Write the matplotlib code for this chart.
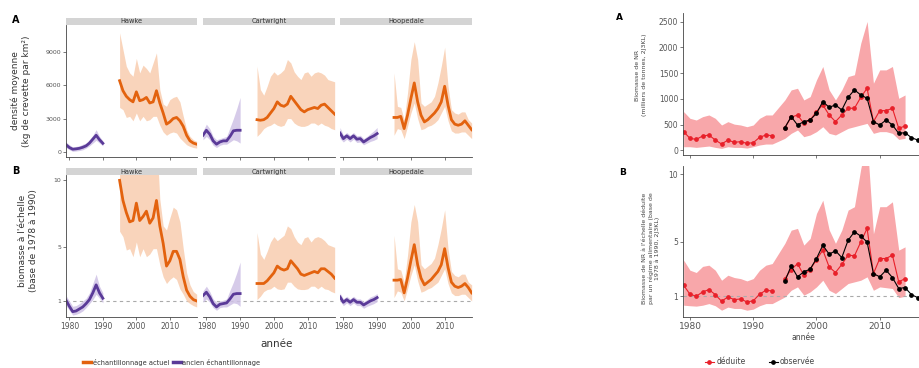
import matplotlib.pyplot as plt
from matplotlib.patches import Rectangle
from matplotlib.lines import Line2D
import numpy as np

nan = np.nan

# ---- left figure: three regions, old (purple) and current (orange) surveys
years_old = list(range(1979, 1991))
years_new = list(range(1995, 2019))
regions = ['Hawke', 'Cartwright', 'Hoopedale']

# A: mean density (kg / km2)
hawke_old_a = [650, 400, 250, 280, 330, 420, 550, 800, 1150, 1500, 1100, 780]
hawke_old_a_hi = [900, 650, 450, 500, 550, 700, 800, 1100, 1500, 2000, 1400, 1000]
hawke_old_a_lo = [400, 200, 60, 90, 130, 200, 350, 550, 800, 1050, 800, 550]
hawke_new_a = [6400, 5500, 5000, 4700, 4500, 5400, 4600, 4700, 4900, 4400, 4500, 5500,
               4400, 3500, 2500, 2700, 3000, 3100, 2800, 2300, 1500, 1000, 800, 700]
hawke_new_a_hi = [10700, 9200, 7700, 7100, 6800, 8400, 7100, 7800, 7500, 7100, 8000, 8900,
                  5600, 4300, 4100, 4700, 4900, 5000, 4500, 3200, 2000, 1400, 1100, 950]
hawke_new_a_lo = [4000, 3800, 3100, 3200, 2800, 3500, 2800, 3200, 2800, 2900, 3200, 3200,
                  2400, 1800, 1500, 1700, 1800, 1700, 1250, 950, 650, 500, 400, 350]

cart_old_a = [1500, 1950, 1600, 1000, 700, 900, 1000, 1000, 1400, 1900, 1950, 1950]
cart_old_a_hi = [1900, 2500, 2100, 1400, 1100, 1200, 1300, 1400, 2200, 3000, 3900, 4900]
cart_old_a_lo = [1100, 1400, 1100, 600, 400, 600, 700, 700, 900, 1100, 1000, 800]
cart_new_a = [2900, 2850, 2900, 3100, 3500, 3900, 4500, 4200, 4100, 4300, 5000, 4600,
              4200, 3800, 3600, 3800, 3900, 4000, 3900, 4200, 4300, 4000, 3700, 3400]
cart_new_a_hi = [7700, 5600, 5100, 5900, 6800, 7200, 6900, 7100, 7400, 8300, 8000, 7200,
                 6800, 6500, 7100, 7200, 6800, 7100, 7200, 7100, 6900, 6500, 6400, 6300]
cart_new_a_lo = [1400, 1700, 2100, 2300, 2400, 2600, 2400, 2300, 2400, 3000, 3000, 2600,
                 2400, 2300, 2300, 2400, 2600, 2600, 2400, 2600, 2400, 2300, 2100, 2000]

hoop_old_a = [1700, 1200, 1450, 1200, 1450, 1150, 1200, 900, 1100, 1300, 1450, 1650]
hoop_old_a_hi = [2200, 1500, 1750, 1500, 1750, 1450, 1500, 1200, 1400, 1650, 1900, 2200]
hoop_old_a_lo = [1200, 900, 1150, 900, 1150, 850, 900, 650, 800, 950, 1050, 1200]
hoop_new_a = [3100, 3100, 3200, 2100, 3300, 4800, 6200, 4500, 3300, 2700, 2900, 3200,
              3500, 3900, 4500, 5900, 4200, 2900, 2500, 2400, 2500, 2800, 2400, 2000]
hoop_new_a_hi = [7100, 4100, 4000, 2900, 5300, 8300, 9900, 8300, 4400, 4100, 4300, 4500,
                 5000, 6200, 7700, 9400, 5900, 3800, 3500, 3400, 3600, 3600, 2900, 2600]
hoop_new_a_lo = [1500, 2100, 2000, 1200, 2300, 3500, 4400, 3000, 2000, 2100, 2300, 2400,
                 2600, 2900, 3500, 4100, 2800, 1900, 1700, 1700, 1800, 1800, 1500, 1200]

# B: scaled biomass (base 1978-1990)
hawke_old_b = [1.05, 0.6, 0.2, 0.25, 0.4, 0.55, 0.8, 1.1, 1.6, 2.2, 1.6, 1.2]
hawke_old_b_hi = [1.4, 1.0, 0.6, 0.65, 0.8, 1.0, 1.2, 1.6, 2.3, 3.0, 2.1, 1.6]
hawke_old_b_lo = [0.65, 0.3, -0.05, 0.0, 0.1, 0.25, 0.5, 0.8, 1.1, 1.5, 1.2, 0.85]
hawke_new_b = [10.0, 8.5, 7.6, 6.9, 7.0, 8.3, 7.0, 7.3, 7.7, 6.8, 7.2, 8.5,
               6.6, 5.3, 3.6, 4.0, 4.7, 4.7, 4.1, 2.8, 1.8, 1.35, 1.1, 1.0]
hawke_new_b_hi = [16, 14, 12, 11, 10.5, 13, 11, 12, 11.5, 11, 12, 13.5,
                  8.6, 6.6, 6.3, 7.2, 8.0, 7.8, 6.9, 4.9, 3.1, 2.2, 1.7, 1.5]
hawke_new_b_lo = [6.2, 5.8, 4.8, 4.9, 4.3, 5.4, 4.3, 4.9, 4.3, 4.5, 4.9, 4.9,
                  3.7, 2.8, 2.3, 2.6, 2.8, 2.6, 1.9, 1.5, 1.0, 0.8, 0.65, 0.55]

cart_old_b = [1.4, 1.65, 1.3, 0.8, 0.55, 0.75, 0.8, 0.85, 1.15, 1.5, 1.55, 1.55]
cart_old_b_hi = [1.75, 2.1, 1.7, 1.15, 0.9, 1.0, 1.05, 1.15, 1.8, 2.4, 3.1, 3.9]
cart_old_b_lo = [0.9, 1.15, 0.9, 0.5, 0.3, 0.5, 0.55, 0.55, 0.7, 0.85, 0.8, 0.6]
cart_new_b = [2.3, 2.3, 2.3, 2.5, 2.8, 3.1, 3.6, 3.4, 3.3, 3.4, 4.0, 3.7,
              3.4, 3.0, 2.9, 3.0, 3.1, 3.2, 3.1, 3.4, 3.4, 3.2, 3.0, 2.7]
cart_new_b_hi = [6.1, 4.5, 4.1, 4.7, 5.4, 5.8, 5.5, 5.7, 5.9, 6.6, 6.4, 5.8,
                 5.4, 5.2, 5.7, 5.8, 5.4, 5.7, 5.8, 5.7, 5.5, 5.2, 5.1, 5.0]
cart_new_b_lo = [1.1, 1.35, 1.7, 1.85, 1.9, 2.1, 1.9, 1.85, 1.9, 2.4, 2.4, 2.1,
                 1.9, 1.85, 1.85, 1.9, 2.1, 2.1, 1.9, 2.1, 1.9, 1.85, 1.7, 1.6]

hoop_old_b = [1.3, 0.9, 1.1, 0.9, 1.1, 0.9, 0.9, 0.7, 0.85, 1.0, 1.1, 1.25]
hoop_old_b_hi = [1.6, 1.15, 1.35, 1.15, 1.35, 1.15, 1.15, 0.95, 1.1, 1.3, 1.4, 1.55]
hoop_old_b_lo = [1.0, 0.65, 0.85, 0.65, 0.85, 0.65, 0.65, 0.45, 0.6, 0.7, 0.8, 0.95]
hoop_new_b = [2.55, 2.55, 2.6, 1.6, 2.7, 4.0, 5.2, 3.7, 2.7, 2.2, 2.4, 2.6,
              2.9, 3.2, 3.7, 4.9, 3.5, 2.4, 2.1, 2.0, 2.1, 2.3, 2.0, 1.6]
hoop_new_b_hi = [5.9, 3.4, 3.3, 2.4, 4.4, 6.9, 8.2, 6.9, 3.7, 3.4, 3.6, 3.8,
                 4.2, 5.2, 6.4, 7.8, 4.9, 3.2, 2.9, 2.8, 3.0, 3.0, 2.4, 2.2]
hoop_new_b_lo = [1.25, 1.75, 1.65, 1.0, 1.9, 2.9, 3.7, 2.5, 1.65, 1.75, 1.9, 2.0,
                 2.2, 2.4, 2.9, 3.4, 2.3, 1.6, 1.4, 1.4, 1.5, 1.5, 1.25, 1.0]

# ---- right figure: NR biomass 2J3KL, inferred (red) and observed (black)
years_inf = list(range(1979, 2015))   # no 1994 point
years_band = [y for y in years_inf if y != 1994]
years_obs = list(range(1995, 2018))

inf_a = [363, 234, 214, 279, 298, 201, 123, 201, 156, 169, 136, 149, 253, 298, 286, nan,
         441, 643, 688, 526, 591, 753, 883, 688, 558, 688, 818, 818, 1032, 1207,
         558, 772, 772, 818, 428, 474]
inf_a_hi = [753, 623, 590, 655, 688, 623, 493, 558, 510, 493, 460, 493, 623, 688, 688,
            980, 1175, 1207, 980, 1045, 1370, 1630, 1175, 980, 1175, 1435, 1470, 2083, 2505,
            1305, 1564, 1564, 1630, 1012, 1077]
inf_a_lo = [71, 71, 58, 71, 84, 58, 39, 71, 58, 58, 45, 71, 104, 123, 123,
            234, 331, 396, 266, 299, 364, 460, 331, 299, 364, 428, 460, 493, 525,
            331, 364, 364, 331, 214, 234]
obs_a = [441, 656, 493, 558, 590, 720, 948, 837, 883, 785, 1032, 1175, 1077, 1012,
         558, 493, 591, 493, 331, 344, 247, 201, 170]

inf_b = [1.81, 1.15, 1.0, 1.32, 1.49, 1.12, 0.63, 0.95, 0.75, 0.8, 0.58, 0.66, 1.15, 1.44, 1.39, nan,
         2.3, 2.97, 3.4, 2.55, 2.97, 3.7, 4.4, 3.16, 2.75, 3.34, 4.03, 3.98, 5.0, 6.0,
         2.67, 3.78, 3.78, 4.03, 2.06, 2.3]
inf_b_hi = [3.66, 2.92, 2.75, 3.2, 3.29, 2.92, 2.18, 2.55, 2.38, 2.3, 2.13, 2.3, 2.92, 3.29, 3.41,
            4.9, 5.87, 6.0, 4.77, 5.26, 7.1, 8.08, 5.9, 4.9, 5.87, 7.35, 7.6, 10.4, 12.5,
            5.6, 7.6, 7.6, 7.96, 4.4, 4.64]
inf_b_lo = [0.34, 0.3, 0.27, 0.34, 0.46, 0.3, -0.03, 0.2, 0.1, 0.1, -0.03, 0.05, 0.3, 0.46, 0.46,
            0.95, 1.44, 1.69, 1.08, 1.32, 1.69, 2.18, 1.44, 1.2, 1.57, 1.94, 2.06, 2.18, 2.43,
            1.44, 1.69, 1.63, 1.57, 0.9, 1.0]
obs_b = [2.1, 3.24, 2.43, 2.8, 3.0, 3.78, 4.76, 4.1, 4.35, 3.85, 5.13, 5.75, 5.43, 5.0,
         2.67, 2.43, 2.92, 2.38, 1.57, 1.64, 1.12, 0.9, 0.8]

# colours
ORANGE = '#E3620E'
ORANGE_FILL = '#F8CDAF'
PURPLE = '#5A3A98'
PURPLE_FILL = '#CFC2E6'
RED = '#E8202A'
RED_FILL = '#F8A7AA'
GREY_TXT = '#555555'

W, H = 919, 368
fig = plt.figure(figsize=(W / 100, H / 100), dpi=100)


def px_axes(x0, y0, x1, y1):
    return fig.add_axes([x0 / W, 1 - y1 / H, (x1 - x0) / W, (y1 - y0) / H])


def strip(ax, label, h):
    ax.add_patch(Rectangle((0, 1), 1, h, transform=ax.transAxes, clip_on=False,
                           facecolor='#D4D4D4', edgecolor='none'))
    ax.text(0.5, 1 + h / 2, label, transform=ax.transAxes, ha='center', va='center',
            fontsize=4.8, color='#333333')


def style(ax):
    for s in ['top', 'right']:
        ax.spines[s].set_visible(False)
    for s in ['left', 'bottom']:
        ax.spines[s].set_linewidth(0.6)
        ax.spines[s].set_color('#444444')
    ax.tick_params(length=2, width=0.5, colors='#444444', labelcolor=GREY_TXT, pad=1.5)


# ---- left facets
facet_x = [(66, 197), (203, 335), (340, 472)]
data_a = [
    (hawke_old_a, hawke_old_a_lo, hawke_old_a_hi, hawke_new_a, hawke_new_a_lo, hawke_new_a_hi),
    (cart_old_a, cart_old_a_lo, cart_old_a_hi, cart_new_a, cart_new_a_lo, cart_new_a_hi),
    (hoop_old_a, hoop_old_a_lo, hoop_old_a_hi, hoop_new_a, hoop_new_a_lo, hoop_new_a_hi),
]
data_b = [
    (hawke_old_b, hawke_old_b_lo, hawke_old_b_hi, hawke_new_b, hawke_new_b_lo, hawke_new_b_hi),
    (cart_old_b, cart_old_b_lo, cart_old_b_hi, cart_new_b, cart_new_b_lo, cart_new_b_hi),
    (hoop_old_b, hoop_old_b_lo, hoop_old_b_hi, hoop_new_b, hoop_new_b_lo, hoop_new_b_hi),
]

for i, name in enumerate(regions):
    x0, x1 = facet_x[i]
    for row, (y0, y1, dat) in enumerate([(25, 157, data_a[i]), (175, 317, data_b[i])]):
        ax = px_axes(x0, y0, x1, y1)
        old, old_lo, old_hi, new, new_lo, new_hi = dat
        ax.fill_between(years_old, old_lo, old_hi, color=PURPLE_FILL, lw=0, alpha=0.85)
        ax.fill_between(years_new, new_lo, new_hi, color=ORANGE_FILL, lw=0, alpha=0.85)
        ax.plot(years_old, old, color=PURPLE, lw=2.0, solid_joinstyle='round')
        ax.plot(years_new, new, color=ORANGE, lw=2.0, solid_joinstyle='round')
        ax.set_xlim(1979.0, 2018.1)
        ax.set_xticks([1980, 1990, 2000, 2010])
        style(ax)
        if row == 0:
            ax.set_ylim(-450, 11400)
            ax.set_yticks([0, 3000, 6000, 9000])
            ax.set_xticklabels([])
            strip(ax, name, 7 / 132)
        else:
            ax.set_ylim(-0.2, 10.4)
            ax.set_yticks([1, 5, 10])
            ax.axhline(1, color='#AAAAAA', lw=0.8, ls=(0, (3, 3)), zorder=0)
            ax.tick_params(axis='x', labelsize=5.5)
            strip(ax, name, 7 / 142)
        ax.tick_params(axis='y', labelsize=4.5)
        if i > 0:
            ax.spines['left'].set_visible(False)
            ax.set_yticks([])

fig.text(12 / W, 1 - 20 / H, 'A', fontsize=7, fontweight='bold', ha='left', va='center')
fig.text(12 / W, 1 - 171 / H, 'B', fontsize=7, fontweight='bold', ha='left', va='center')
fig.text(21 / W, 1 - 91 / H, 'densité moyenne\n(kg de crevette par km²)', rotation=90,
         ha='center', va='center', fontsize=6.5, color='#333333', linespacing=1.3)
fig.text(28 / W, 1 - 241 / H, "biomasse à l'échelle\n(base de 1978 à 1990)", rotation=90,
         ha='center', va='center', fontsize=6.5, color='#333333', linespacing=1.3)
fig.text(277 / W, 1 - 344 / H, 'année', ha='center', va='center', fontsize=7.5, color='#333333')

left_handles = [Line2D([], [], color=ORANGE, lw=2.5), Line2D([], [], color=PURPLE, lw=2.5)]
fig.legend(left_handles, ['échantillonnage actuel', 'ancien échantillonnage'],
           loc='center', bbox_to_anchor=(172 / W, 1 - 362 / H), ncol=2, frameon=False,
           fontsize=4.8, handlelength=1.2, handletextpad=0.2, columnspacing=0.6,
           labelcolor='#333333', borderpad=0.1)

# ---- right panels
axr = px_axes(683, 13, 931, 155)
axr.fill_between(years_band, inf_a_lo, inf_a_hi, color=RED_FILL, lw=0)
axr.plot(years_inf, inf_a, color=RED, lw=0.8, marker='o', ms=2.4)
axr.plot(years_obs, obs_a, color='black', lw=0.8, marker='o', ms=2.4)
axr.set_xlim(1978.9, 2018.1)
axr.set_ylim(-90, 2670)
axr.set_xticks([1980, 1990, 2000, 2010])
axr.set_xticklabels([])
axr.set_yticks([0, 500, 1000, 1500, 2000, 2500])
style(axr)
axr.tick_params(axis='y', labelsize=5.5)

axs = px_axes(683, 166, 931, 317)
axs.fill_between(years_band, inf_b_lo, inf_b_hi, color=RED_FILL, lw=0)
axs.axhline(1, color='#AAAAAA', lw=0.8, ls=(0, (3, 3)), zorder=1)
axs.plot(years_inf, inf_b, color=RED, lw=0.8, marker='o', ms=2.4)
axs.plot(years_obs, obs_b, color='black', lw=0.8, marker='o', ms=2.4)
axs.set_xlim(1978.9, 2018.1)
axs.set_ylim(-0.53, 10.6)
axs.set_xticks([1980, 1990, 2000, 2010])
axs.set_yticks([1, 5, 10])
style(axs)
axs.tick_params(axis='y', labelsize=5.5)
axs.tick_params(axis='x', labelsize=6.5)

fig.text(619 / W, 1 - 18 / H, 'A', fontsize=6.5, fontweight='bold', ha='center', va='center')
fig.text(623 / W, 1 - 172 / H, 'B', fontsize=6.5, fontweight='bold', ha='center', va='center')
fig.text(641 / W, 1 - 75 / H, 'Biomasse de NR\n(milliers de tonnes, 2J3KL)', rotation=90,
         ha='center', va='center', fontsize=4.5, color='#444444', linespacing=1.3)
fig.text(651 / W, 1 - 248 / H,
         "Biomasse de NR à l'échelle déduite\npar un régime alimentaire (base de\n1978 à 1990, 2J3KL)",
         rotation=90, ha='center', va='center', fontsize=4.5, color='#444444', linespacing=1.3)
fig.text(803 / W, 1 - 338 / H, 'année', ha='center', va='center', fontsize=5.5, color='#444444')

right_handles = [Line2D([], [], color=RED, lw=0.8, marker='o', ms=2.4),
                 Line2D([], [], color='black', lw=0.8, marker='o', ms=2.4)]
fig.legend(right_handles, ['déduite', 'observée'], loc='center',
           bbox_to_anchor=(760 / W, 1 - 362 / H), ncol=2, frameon=False,
           fontsize=5.5, handlelength=1.2, handletextpad=0.3, columnspacing=3.0,
           labelcolor='#444444', borderpad=0.1)

fig.savefig('out.png', dpi=100)
